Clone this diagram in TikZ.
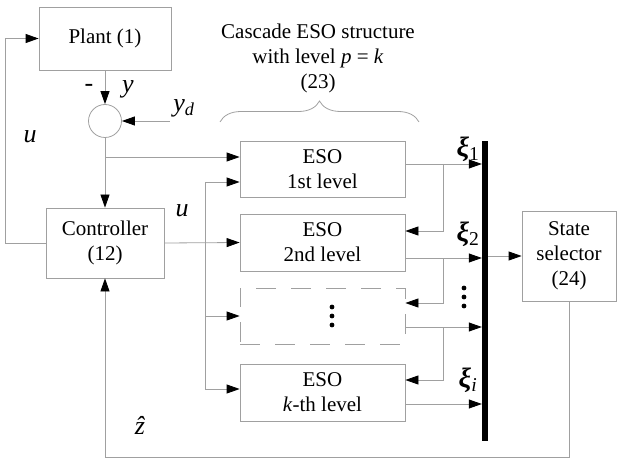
\documentclass[tikz,border=0pt]{standalone}
\usepackage{fontspec}
\setmainfont{Liberation Serif}
\usetikzlibrary{arrows.meta,decorations.pathreplacing}
\definecolor{linegray}{RGB}{160,160,160}
\begin{document}
\begin{tikzpicture}[x=1pt,y=-1pt,
  every node/.style={font=\fontsize{21}{25}\selectfont, inner sep=0pt},
  ln/.style={draw=linegray, line width=0.8pt},
  ar/.style={-{Triangle[length=13pt,width=9pt,color=black]}},
  blk/.style={draw=linegray, line width=0.8pt, align=center, minimum width=#1},
  lab/.style={font=\fontsize{26}{30}\selectfont},
  xlab/.style={font=\fontsize{28}{32}\selectfont},
  dotc/.style={fill=black}]
\useasboundingbox (0,0) rectangle (623,462);

% blocks
\node[blk=132pt, minimum height=63pt] (plant) at (105,38.5) {Plant (1)};
\node[draw=linegray, line width=0.8pt, circle, minimum size=33pt] (sum) at (105,121) {};
\node[blk=118pt, minimum height=70pt] (ctrl) at (105,243) {Controller\\(12)};
\node[blk=165pt, minimum height=56pt] (eso1) at (322.5,169) {ESO\\1st level};
\node[blk=165pt, minimum height=57pt] (eso2) at (322.5,242.5) {ESO\\2nd level};
\node[blk=165pt, minimum height=56pt, dash pattern=on 20pt off 15pt] (esod) at (322.5,316) {};
\node[blk=165pt, minimum height=57pt] (esok) at (322.5,392.5) {ESO\\\textit{k}-th level};
\node[blk=94pt, minimum height=90pt] (sel) at (569,256) {State\\selector\\(24)};
\node[fill=black, minimum width=6pt, minimum height=300pt] (bus) at (485,291) {};

% title and brace
\node[align=center] (title) at (318,58) {Cascade ESO structure\\with level \textit{p} = \textit{k}\\(23)};
\draw[ln, decorate, decoration={brace, amplitude=21pt}] (220,122) -- (419,122);

% labels
\node[lab] (minus) at (89,88) {-};
\node[lab] (ylab) at (128,89) {\textit{y}};
\node[lab] (ydlab) at (184,108) {\textit{y}\textsubscript{\textit{d}}};
\node[lab] (u1) at (30,137) {\textit{u}};
\node[lab] (u2) at (182,211) {\textit{u}};
\node[lab] (zh) at (140,425) {\textit{ẑ}};
\node[xlab] (xi1) at (468,149) {\textbf{\textit{ξ}}\textsubscript{1}};
\node[xlab] (xi2) at (468,234) {\textbf{\textit{ξ}}\textsubscript{2}};
\node[xlab] (xii) at (468,380) {\textbf{\textit{ξ}}\textsubscript{\textit{i}}};

% dots
\foreach \yy in {307,316,325} \fill[dotc] (332,\yy) circle (2.4pt);
\foreach \yy in {288,297,306} \fill[dotc] (464,\yy) circle (2.4pt);

% left loop
\coordinate (yd) at (170,121);
\draw[ln,ar] (ctrl.west) -- ++(-40,0) |- (plant.west);
\draw[ln,ar] (plant.south) -- (sum.north);
\draw[ln,ar] (yd) -- (sum.east);
\draw[ln,ar] (sum.south) -- (ctrl.north);
\draw[ln,ar] (sum.south |- 0,157) -- (eso1.west |- 0,157);
\draw[ln,ar] (ctrl.east) -- (eso2.west);

% u distribution
\coordinate (ub) at (205,182);
\draw[ln,ar] (ub) -- (eso1.west |- ub);
\draw[ln,ar] (ub) |- (esok.west |- 0,389);
\draw[ln,ar] (ub |- esod.west) -- (esod.west);

% outputs to bus and cascade feedback
\draw[ln,ar] (eso1.east |- 0,164) -- (bus.west |- 0,164);
\draw[ln,ar] (443,164) |- (eso2.east |- 0,231);
\draw[ln,ar] (eso2.east |- 0,258) -- (bus.west |- 0,258);
\draw[ln,ar] (443,258) |- (esod.east |- 0,303);
\draw[ln,ar] (esod.east |- 0,327) -- (bus.west |- 0,327);
\draw[ln,ar] (443,327) |- (esok.east |- 0,380);
\draw[ln,ar] (esok.east |- 0,404) -- (bus.west |- 0,404);

% selector
\draw[ln,ar] (bus.east |- sel.west) -- (sel.west);
\draw[ln,ar] (sel.south) |- (ctrl.south |- 0,457) -- (ctrl.south);
\end{tikzpicture}
\end{document}
